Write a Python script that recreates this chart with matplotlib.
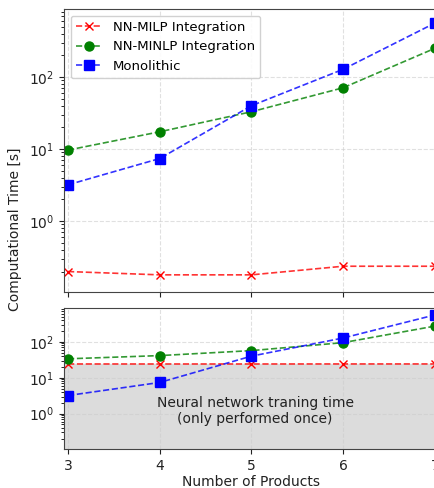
import matplotlib
matplotlib.use("Agg")
import matplotlib.pyplot as plt
import numpy as np

products = [3, 4, 5, 6, 7]
milp_time = [0.20, 0.18, 0.18, 0.237, 0.237]
minlp_time = [9.7, 17.4, 33, 71, 250]
mono_time = [3.2, 7.4, 40, 128, 560]
training_time = 24.0

milp_total = [v + training_time for v in milp_time]
minlp_total = [v + training_time for v in minlp_time]

fig = plt.figure(figsize=(4.35, 4.88), dpi=100)
ax1 = fig.add_axes([0.147, 0.4016, 0.862, 0.58])
ax2 = fig.add_axes([0.147, 0.080, 0.862, 0.289])

spine_col = '#444444'

def style(ax):
    ax.set_yscale('log')
    ax.set_xlim(2.955, 7.045)
    ax.set_ylim(0.104, 880)
    ax.grid(True, which='major', linestyle='--', color='#cccccc', alpha=0.6, linewidth=0.8)
    ax.set_axisbelow(True)
    for s in ax.spines.values():
        s.set_color(spine_col)
    ax.set_xticks(products)
    ax.tick_params(labelsize=10, colors='#222222')

def series(ax, y, col, marker, label, ms):
    rgba = matplotlib.colors.to_rgba(col, 0.8)
    ax.plot(products, y, linestyle='--', color=rgba, marker=marker, markersize=ms,
            markerfacecolor=col, markeredgecolor=col, label=label, linewidth=1.2)

style(ax1)
series(ax1, milp_time, 'red', 'x', 'NN-MILP Integration', 6)
series(ax1, minlp_time, 'green', 'o', 'NN-MINLP Integration', 6.5)
series(ax1, mono_time, 'blue', 's', 'Monolithic', 6.5)
ax1.tick_params(labelbottom=False)
ax1.legend(loc='upper left', fontsize=9.5, framealpha=0.9)

style(ax2)
ax2.axhspan(0.05, training_time, color='#dcdcdc', zorder=0.5)
series(ax2, milp_total, 'red', 'x', 'NN-MILP Integration', 6)
series(ax2, minlp_total, 'green', 'o', 'NN-MINLP Integration', 6.5)
series(ax2, mono_time, 'blue', 's', 'Monolithic', 6.5)
ax2.text(5.04, 1.2, 'Neural network traning time\n(only performed once)', ha='center', va='center',
         fontsize=10, color='#222222')
ax2.set_xlabel('Number of Products', fontsize=10, color='#222222', labelpad=2)

fig.text(0.035, 0.53, 'Computational Time [s]', rotation=90, ha='center', va='center',
         fontsize=10, color='#222222')

fig.savefig('out.png', dpi=100)
